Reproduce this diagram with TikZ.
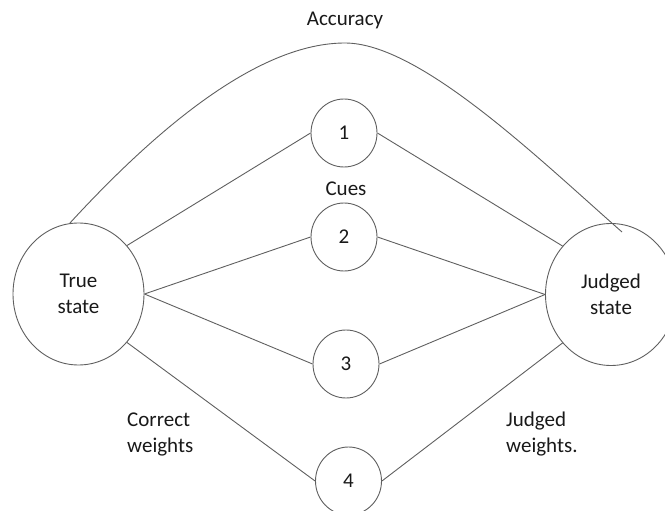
\documentclass[tikz,border=0pt]{standalone}
\usepackage{fontspec}
\setmainfont{Carlito}
\usetikzlibrary{shapes.geometric}
\definecolor{edge}{RGB}{95,95,95}
\definecolor{ink}{RGB}{25,25,25}
\begin{document}
\begin{tikzpicture}[x=1pt,y=-1pt,
  every node/.style={font=\fontsize{21}{26}\selectfont, text=ink},
  state/.style={ellipse, draw=edge, line width=0.9pt, minimum width=131pt, minimum height=142pt, inner sep=0pt, align=center},
  cue/.style={ellipse, draw=edge, line width=0.9pt, minimum width=66pt, minimum height=68pt, inner sep=0pt},
  link/.style={draw=edge, line width=0.9pt},
  lbl/.style={align=left, anchor=west, inner sep=0pt}]
\path[use as bounding box] (0,0) rectangle (665,511);
\clip (0,0) rectangle (665,511);
% states
\node[state] (T) at (78.5,294) {True\\state};
\node[state] (J) at (611,294.5) {Judged\\state};
% cues
\node[cue] (c1) at (344,133) {1};
\node[cue] (c2) at (344,237) {2};
\node[cue] (c3) at (346,364) {3};
\node[cue] (c4) at (348.5,481) {4};
% labels
\node (acc) at (345,20) {Accuracy};
\node (cues) at (346,189) {Cues};
\node[lbl] (cw) at (127,434) {Correct\\weights};
\node[lbl] (jw) at (506,434) {Judged\\weights.};
% connectors
\draw[link] (T.45) -- (c1.west);
\draw[link] (T.east) -- (c2.west);
\draw[link] (T.east) -- (c3.west);
\draw[link] (T.-45) -- (c4.west);
\draw[link] (c1.east) -- (J.135);
\draw[link] (c2.east) -- (J.west);
\draw[link] (c3.east) -- (J.west);
\draw[link] (c4.east) -- (J.-135);
% accuracy arc
\coordinate (accTop) at (345,43);
\coordinate (accEnd) at (622,232);
\draw[link] (T.97) .. controls (160,125) and (260,43) .. (accTop)
  .. controls (420,43) and (540,160) .. (accEnd);
\end{tikzpicture}
\end{document}
